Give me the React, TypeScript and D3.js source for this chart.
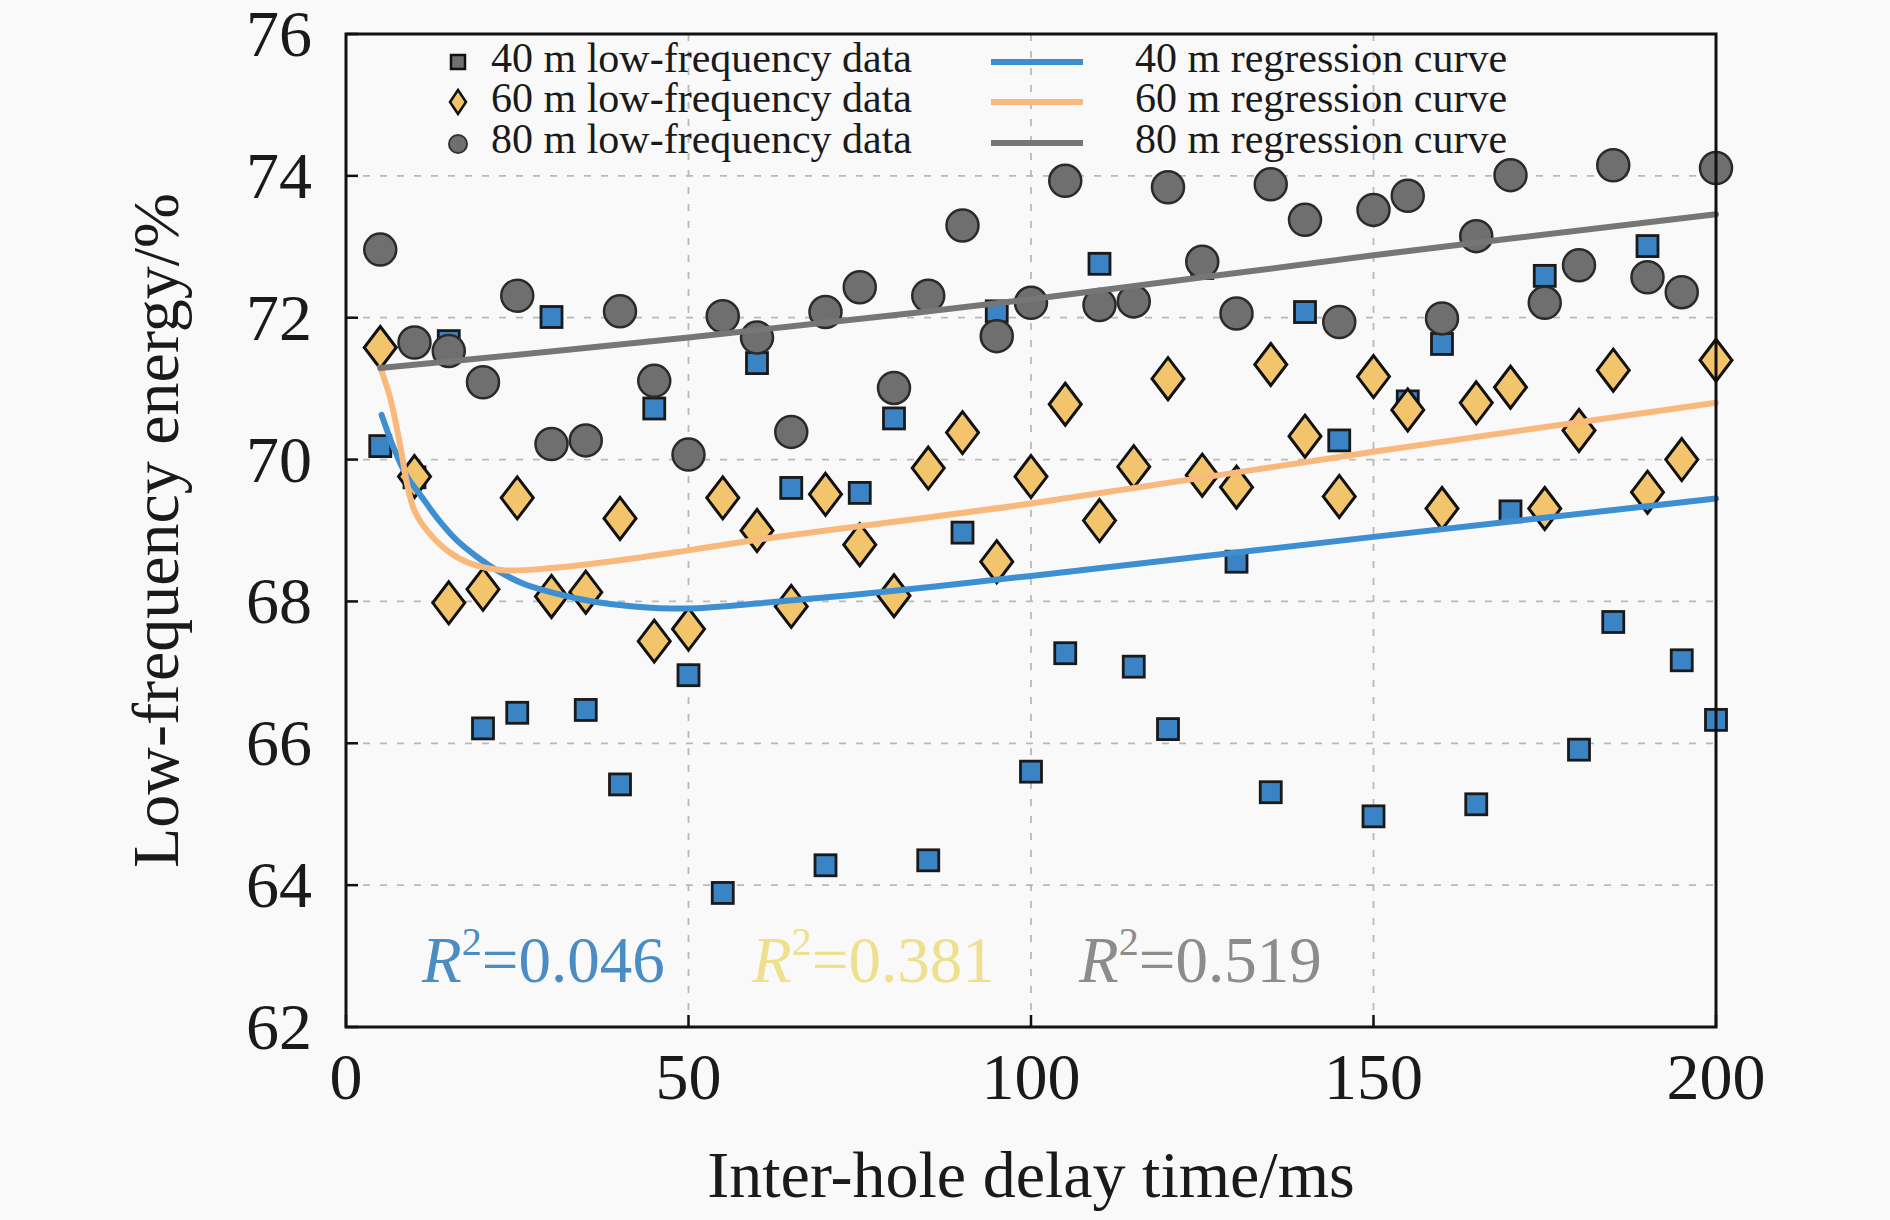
import React from 'react';
import * as d3 from 'd3';

// inter-hole delay (ms)
const DELAYS = [
  5, 10, 15, 20, 25, 30, 35, 40, 45, 50, 55, 60, 65, 70, 75, 80, 85, 90, 95, 100,
  105, 110, 115, 120, 125, 130, 135, 140, 145, 150, 155, 160, 165, 170, 175, 180, 185, 190, 195, 200,
];

// low-frequency energy (%) per depth
const LF_40 = [
  70.19, 69.75, 71.67, 66.21, 66.43, 72.01, 66.47, 65.42, 70.72, 66.96,
  63.89, 71.36, 69.6, 64.28, 69.53, 70.58, 64.35, 68.97, 72.09, 65.6,
  67.27, 72.76, 67.08, 66.2, 72.7, 68.56, 65.31, 72.08, 70.27, 64.97,
  70.82, 71.63, 65.14, 69.27, 72.59, 65.91, 67.71, 73.01, 67.17, 66.33,
];
const LF_60 = [
  71.58, 69.76, 67.98, 68.17, 69.46, 68.07, 68.13, 69.17, 67.44, 67.61,
  69.46, 69.0, 67.93, 69.51, 68.8, 68.08, 69.88, 70.38, 68.56, 69.76,
  70.78, 69.14, 69.9, 71.14, 69.78, 69.61, 71.34, 70.33, 69.48, 71.17,
  70.7, 69.31, 70.8, 71.02, 69.31, 70.41, 71.26, 69.54, 70.0, 71.4,
];
const LF_80 = [
  72.96, 71.65, 71.53, 71.09, 72.31, 70.22, 70.27, 72.09, 71.11, 70.07,
  72.02, 71.72, 70.39, 72.08, 72.43, 71.01, 72.31, 73.3, 71.74, 72.21,
  73.93, 72.18, 72.23, 73.84, 72.79, 72.06, 73.88, 73.38, 71.94, 73.52,
  73.72, 71.99, 73.15, 74.01, 72.21, 72.74, 74.15, 72.57, 72.36, 74.11,
];

// regression curves
const FIT_40_X = [5.2, 6.9, 8.9, 11.1, 13.2, 16.2, 19.1, 22, 25.9, 30.7, 36, 42, 50, 60, 80, 100, 150, 200];
const FIT_40_Y = [70.63, 70.18, 69.76, 69.47, 69.19, 68.86, 68.63, 68.44, 68.25, 68.11, 68.0, 67.93, 67.9, 67.97, 68.15, 68.36, 68.91, 69.45];
const FIT_60_X = [5, 6.5, 8, 9, 10, 12, 15, 18, 23, 30, 40, 50, 60, 100, 150, 200];
const FIT_60_Y = [71.3, 70.85, 70.15, 69.62, 69.28, 68.98, 68.7, 68.54, 68.44, 68.47, 68.58, 68.72, 68.87, 69.38, 70.11, 70.8];
const FIT_80_X = [5, 50, 100, 150, 200];
const FIT_80_Y = [71.29, 71.72, 72.26, 72.88, 73.46];

const X_TICKS = [0, 50, 100, 150, 200];
const Y_TICKS = [62, 64, 66, 68, 70, 72, 74, 76];
const R2_VALUES = ['0.046', '0.381', '0.519'];

const FONT = '"Liberation Serif", "Times New Roman", serif';
const BLUE = '#3a84c6';
const GOLD = '#f2c46c';
const GREY = '#6f6f6f';
const LINE_BLUE = '#3d8fd2';
const LINE_ORANGE = '#f9b97c';
const LINE_GREY = '#767676';

const W = 1890;
const H = 1220;
const M = { left: 346, right: 1716, top: 34, bottom: 1027 };

const diamond = (w: number, h: number) => `M0,${-h}L${w},0L0,${h}L${-w},0Z`;

export default function App() {
  const x = d3.scaleLinear().domain([0, 200]).range([M.left, M.right]);
  const y = d3.scaleLinear().domain([62, 76]).range([M.bottom, M.top]);

  const line = d3.line<[number, number]>()
    .x(d => x(d[0]))
    .y(d => y(d[1]))
    .curve(d3.curveCatmullRom.alpha(0.5));

  const fits = [
    { xs: FIT_40_X, ys: FIT_40_Y, color: LINE_BLUE },
    { xs: FIT_60_X, ys: FIT_60_Y, color: LINE_ORANGE },
    { xs: FIT_80_X, ys: FIT_80_Y, color: LINE_GREY },
  ];

  const r2Colors = ['#4a8cc4', '#efe08e', '#8c8c8c'];
  const r2X = [422, 752, 1079];

  const legendRows = [72, 112, 153];
  const legendNames = ['40 m', '60 m', '80 m'];

  return (
    <div>
      <style>{`body{margin:0;background:#f9f9f9}`}</style>
      <svg width={W} height={H} style={{ display: 'block', background: '#f9f9f9' }} fontFamily={FONT}>
        {/* grid */}
        {Y_TICKS.slice(1, -1).map(t => (
          <line key={'gy' + t} x1={M.left} x2={M.right} y1={y(t)} y2={y(t)}
            stroke="#b9b9b9" strokeWidth={1.8} strokeDasharray="7 10" />
        ))}
        {X_TICKS.slice(1, -1).map(t => (
          <line key={'gx' + t} x1={x(t)} x2={x(t)} y1={M.top} y2={M.bottom}
            stroke="#b9b9b9" strokeWidth={1.8} strokeDasharray="7 10" />
        ))}

        {/* markers */}
        {DELAYS.map((d, i) => (
          <rect key={'s' + i} x={x(d) - 10.5} y={y(LF_40[i]) - 10.5} width={21} height={21}
            fill={BLUE} stroke="#1a1a1a" strokeWidth={2.8} />
        ))}
        {DELAYS.map((d, i) => (
          <path key={'d' + i} d={diamond(16, 21)} transform={`translate(${x(d)},${y(LF_60[i])})`}
            fill={GOLD} stroke="#111" strokeWidth={3} />
        ))}
        {DELAYS.map((d, i) => (
          <circle key={'c' + i} cx={x(d)} cy={y(LF_80[i])} r={16}
            fill={GREY} stroke="#2a2a2a" strokeWidth={2.5} />
        ))}

        {/* regression curves */}
        {fits.map((f, k) => (
          <path key={'f' + k} d={line(f.xs.map((v, i) => [v, f.ys[i]]) as [number, number][]) || ''}
            fill="none" stroke={f.color} strokeWidth={6} strokeLinecap="round" />
        ))}

        {/* R² labels */}
        {R2_VALUES.map((v, k) => (
          <text key={'r' + k} x={r2X[k]} y={982} fontSize={65} fill={r2Colors[k]}>
            <tspan fontStyle="italic">R</tspan>
            <tspan fontSize={40} dy={-27}>2</tspan>
            <tspan dy={27}>={v}</tspan>
          </text>
        ))}

        {/* legend */}
        {legendRows.map((ry, k) => (
          <g key={'l' + k}>
            {k === 0 && <rect x={458 - 7} y={ry - 10 - 7} width={14} height={14} fill={GREY} stroke="#111" strokeWidth={2.5} />}
            {k === 1 && <path d={diamond(8, 12)} transform={`translate(458,${ry - 10})`} fill={GOLD} stroke="#111" strokeWidth={2.5} />}
            {k === 2 && <circle cx={458} cy={ry - 9} r={9} fill={GREY} stroke="#333" strokeWidth={2} />}
            <text x={491} y={ry} fontSize={42} fill="#1a1a1a">{legendNames[k]} low-frequency data</text>
            <line x1={991} x2={1083} y1={ry - 10} y2={ry - 10} stroke={fits[k].color} strokeWidth={6} />
            <text x={1135} y={ry} fontSize={42} fill="#1a1a1a">{legendNames[k]} regression curve</text>
          </g>
        ))}

        {/* axes frame */}
        <rect x={M.left} y={M.top} width={M.right - M.left} height={M.bottom - M.top}
          fill="none" stroke="#111" strokeWidth={3} />
        {Y_TICKS.map(t => (
          <g key={'yt' + t}>
            <line x1={M.left} x2={M.left + 12} y1={y(t)} y2={y(t)} stroke="#111" strokeWidth={2.5} />
            <text x={312} y={y(t) + 22} fontSize={66} textAnchor="end" fill="#1a1a1a">{t}</text>
          </g>
        ))}
        {X_TICKS.map(t => (
          <g key={'xt' + t}>
            <line x1={x(t)} x2={x(t)} y1={M.bottom} y2={M.bottom - 12} stroke="#111" strokeWidth={2.5} />
            <text x={x(t)} y={1099} fontSize={66} textAnchor="middle" fill="#1a1a1a">{t}</text>
          </g>
        ))}

        {/* axis titles */}
        <text x={(M.left + M.right) / 2} y={1197} fontSize={66} textAnchor="middle" fill="#1a1a1a">
          Inter-hole delay time/ms
        </text>
        <text transform={`translate(178,${(M.top + M.bottom) / 2}) rotate(-90)`} fontSize={66}
          textAnchor="middle" fill="#1a1a1a">
          Low-frequency energy/%
        </text>
      </svg>
    </div>
  );
}
